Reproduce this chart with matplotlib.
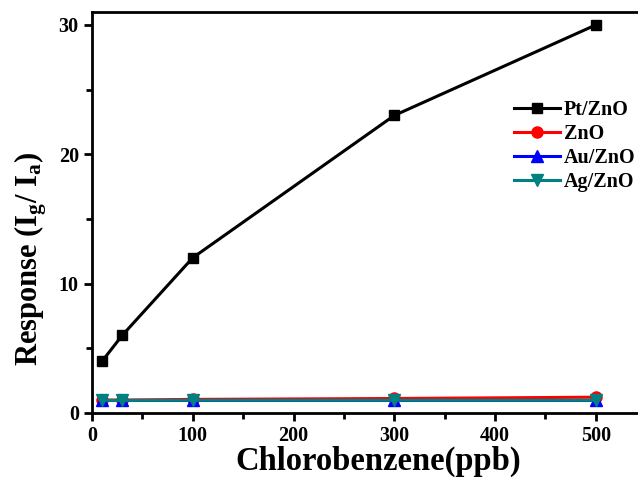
import matplotlib
matplotlib.use("Agg")
import matplotlib.pyplot as plt
from matplotlib.ticker import MultipleLocator

conc = [10, 30, 100, 300, 500]
pt_zno = [4.0, 6.0, 12.0, 23.0, 30.0]
zno = [1.0, 1.0, 1.05, 1.12, 1.22]
au_zno = [1.0, 1.0, 1.0, 1.0, 1.0]
ag_zno = [0.97, 0.97, 0.98, 0.98, 0.98]

plt.rcParams['font.family'] = ['Liberation Serif', 'DejaVu Serif']
plt.rcParams['font.weight'] = 'bold'
plt.rcParams['mathtext.default'] = 'regular'

fig = plt.figure(figsize=(6.38, 4.82), dpi=100)
ax = fig.add_axes([0.1442, 0.1432, 0.876, 0.832])

ax.plot(conc, pt_zno, color='black', marker='s', markersize=7, linewidth=2.2, label='Pt/ZnO')
ax.plot(conc, zno, color='red', marker='o', markersize=8, linewidth=2.2, label='ZnO')
ax.plot(conc, au_zno, color='blue', marker='^', markersize=8, linewidth=2.2, label='Au/ZnO')
ax.plot(conc, ag_zno, color='#008080', marker='v', markersize=8, linewidth=2.2, label='Ag/ZnO')

ax.set_xlim(0, 554.6)
ax.set_ylim(0, 31.0)
ax.xaxis.set_major_locator(MultipleLocator(100))
ax.xaxis.set_minor_locator(MultipleLocator(50))
ax.yaxis.set_major_locator(MultipleLocator(10))
ax.yaxis.set_minor_locator(MultipleLocator(5))

for side in ax.spines:
    ax.spines[side].set_linewidth(2)

ax.tick_params(which='major', direction='out', length=6, width=2, labelsize=14.5,
               top=False, right=False)
ax.tick_params(which='minor', direction='out', length=4, width=2, top=False, right=False)

ax.set_xlabel('Chlorobenzene(ppb)', fontsize=23.5, fontweight='bold', labelpad=2)
ax.xaxis.set_label_coords(0.512, -0.083)
ax.set_ylabel(r'Response (I$_\mathregular{g}$/ I$_\mathregular{a}$)', fontsize=22,
              fontweight='bold')
ax.yaxis.set_label_coords(-0.077, 0.384)

leg = ax.legend(loc='upper left', bbox_to_anchor=(0.74, 0.80), frameon=False,
                fontsize=14.5, handlelength=2.3, labelspacing=0.2, handletextpad=0.2,
                borderaxespad=0)
for t in leg.get_texts():
    t.set_fontweight('bold')

fig.savefig('out.png', dpi=100)
